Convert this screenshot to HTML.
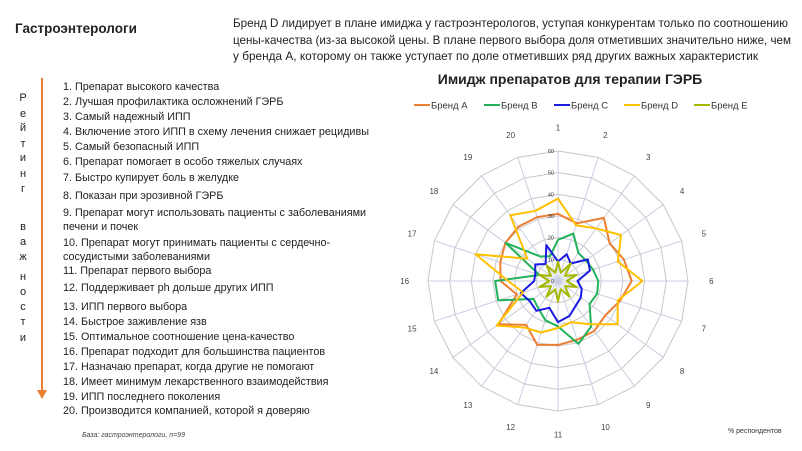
<!DOCTYPE html>
<html><head><meta charset="utf-8"><style>
body{margin:0;background:#fff;}
#root{position:relative;width:802px;height:451px;overflow:hidden;font-family:"Liberation Sans","Noto Sans CJK SC",sans-serif;color:#222;}
.t{position:absolute;white-space:nowrap;}
</style></head><body>
<div id="root">
<div class="t" style="left:15px;top:21px;font-size:13.5px;font-weight:bold;">Гастроэнтерологи</div>
<svg id="left" width="802" height="451" style="position:absolute;left:0;top:0">
<text font-size="12" fill="#222">
<tspan x="233" y="27" textLength="555" lengthAdjust="spacingAndGlyphs">Бренд D лидирует в плане имиджа у гастроэнтерологов, уступая конкурентам только по соотношению</tspan>
<tspan x="233" y="44" textLength="558" lengthAdjust="spacingAndGlyphs">цены-качества (из-за высокой цены. В плане первого выбора доля отметивших значительно ниже, чем</tspan>
<tspan x="233" y="60" textLength="525" lengthAdjust="spacingAndGlyphs">у бренда А, которому он также уступает по доле отметивших ряд других важных характеристик</tspan>
</text>
</svg>
<svg id="chart" width="802" height="451" style="position:absolute;left:0;top:0"></svg>
</div>
<script>
const NS='http://www.w3.org/2000/svg';
function mk(p,tag,attrs,txt){const e=document.createElementNS(NS,tag);for(const k in attrs)e.setAttribute(k,attrs[k]);if(txt!==undefined)e.textContent=txt;p.appendChild(e);return e;}
const items=["1. Препарат высокого качества","2. Лучшая профилактика осложнений ГЭРБ","3. Самый надежный ИПП","4. Включение этого ИПП в схему лечения снижает рецидивы","5. Самый безопасный ИПП","6. Препарат помогает в особо тяжелых случаях","7. Быстро купирует боль в желудке","8. Показан при эрозивной ГЭРБ","9. Препарат могут использовать пациенты с заболеваниями","печени и почек","10. Препарат могут принимать пациенты с сердечно-","сосудистыми заболеваниями","11. Препарат первого выбора","12. Поддерживает ph дольше других ИПП","13. ИПП первого выбора","14. Быстрое заживление язв","15. Оптимальное соотношение цена-качество","16. Препарат подходит для большинства пациентов","17. Назначаю препарат, когда другие не помогают","18. Имеет минимум лекарственного взаимодействия","19. ИПП последнего поколения","20. Производится компанией, которой я доверяю"];
const itemY=[90,105,120,135,150,165,181,199,216,230,246,260,274,291,310,325,340,355,370,385,400,414];
const L=document.getElementById('left');
items.forEach((s,i)=>{const t=mk(L,'text',{x:63,y:itemY[i],'font-size':10.8,fill:'#222'},s);

});
const letters=['Р','е','й','т','и','н','г','в','а','ж','н','о','с','т','и'];
const letY=[101,117,131,147,161,177,192,230,245,260,280,295,310,325,341];
letters.forEach((c,i)=>{const t=mk(L,'text',{x:23,y:letY[i],'font-size':11,fill:'#222','text-anchor':'middle'},c);

});
const ar=mk(L,'line',{x1:42,y1:78,x2:42,y2:392,stroke:'#ED7D31','stroke-width':2});


const ah=mk(L,'polygon',{points:'37,390 47,390 42,399',fill:'#ED7D31'});


const fn=mk(L,'text',{x:82,y:437,'font-size':7,'font-style':'italic',fill:'#444'},'База: гастроэнтерологи, n=99');



// Chart data
const axisLabels=['1','2','3','4','5','6','7','8','9','10','11','12','13','14','15','16','17','18','19','20'];
const ringTicks=[0,10,20,30,40,50,60];
const seriesNames=['Бренд А','Бренд B','Бренд C','Бренд D','Бренд E'];
const brandA=[31,28,36,29.5,32,34,30,27,28.5,28.5,29.5,31,25,34,20,26.5,28,30,31,31];
const brandB=[19,23,16,16,17,18.6,19,18,26,30.5,21,19,15.5,14,29,29,9,30,14,12];
const brandC=[9,13,10,17,15.5,9,11.5,13,14,17,19,13,17,16,18,11,11,13,9.7,17.5];
const brandD=[38,27,30,36,29,39,29,34,24.7,20,21.7,25,26.5,35,17,23,40,17.5,37.5,34];
const brandE=[9,4,10,4,9,4,9,4,9,4,9.5,4,9,4,9,4,9,4,9,4];
const colors=['#ED7D31','#21B25A','#1A1AE0','#FFC000','#A5B800'];
const series=[brandA,brandB,brandC,brandD,brandE];

const C=document.getElementById('chart');
const cx=558,cy=281,R=130,maxV=60;
const n=axisLabels.length;
function ang(i){return i*2*Math.PI/n;}
function pt(i,v){const r=v/maxV*R;return [cx+r*Math.sin(ang(i)),cy-r*Math.cos(ang(i))];}
ringTicks.slice(1).forEach(v=>{const p=[];for(let i=0;i<n;i++)p.push(pt(i,v).join(','));
const g=mk(C,'polygon',{points:p.join(' '),fill:'none',stroke:'#c8c8c8','stroke-width':1});

});
for(let i=0;i<n;i++){const e=pt(i,maxV);const s=mk(C,'line',{x1:cx,y1:cy,x2:e[0],y2:e[1],stroke:'#c8cde0','stroke-width':1});


const lp=pt(i,maxV*1.18);const t=mk(C,'text',{x:lp[0],y:lp[1]+3,'font-size':8,fill:'#444','text-anchor':'middle'},axisLabels[i]);

}
series.forEach((d,k)=>{const p=d.map((v,i)=>pt(i,v).join(','));
const pg=mk(C,'polygon',{points:p.join(' '),fill:'none',stroke:colors[k],'stroke-width':2,'stroke-linejoin':'round'});

});
ringTicks.forEach(v=>{const p=pt(0,v);const t=mk(C,'text',{x:p[0]-4,y:p[1]+2,'font-size':5.5,fill:'#333','text-anchor':'end'},String(v));

});
const ti=mk(C,'text',{x:570,y:84,'font-size':14,'font-weight':'bold',fill:'#222','text-anchor':'middle'},'Имидж препаратов для терапии ГЭРБ');


const legX=[414,484,554,624,694];
seriesNames.forEach((s,k)=>{const g=mk(C,'g',{});


mk(g,'line',{x1:legX[k],y1:105,x2:legX[k]+16,y2:105,stroke:colors[k],'stroke-width':2});
mk(g,'text',{x:legX[k]+17,y:108.5,'font-size':9.5,fill:'#333'},s);});
const ru=mk(C,'text',{x:728,y:433,'font-size':7,fill:'#333'},'% респондентов');


</script>
</body></html>
